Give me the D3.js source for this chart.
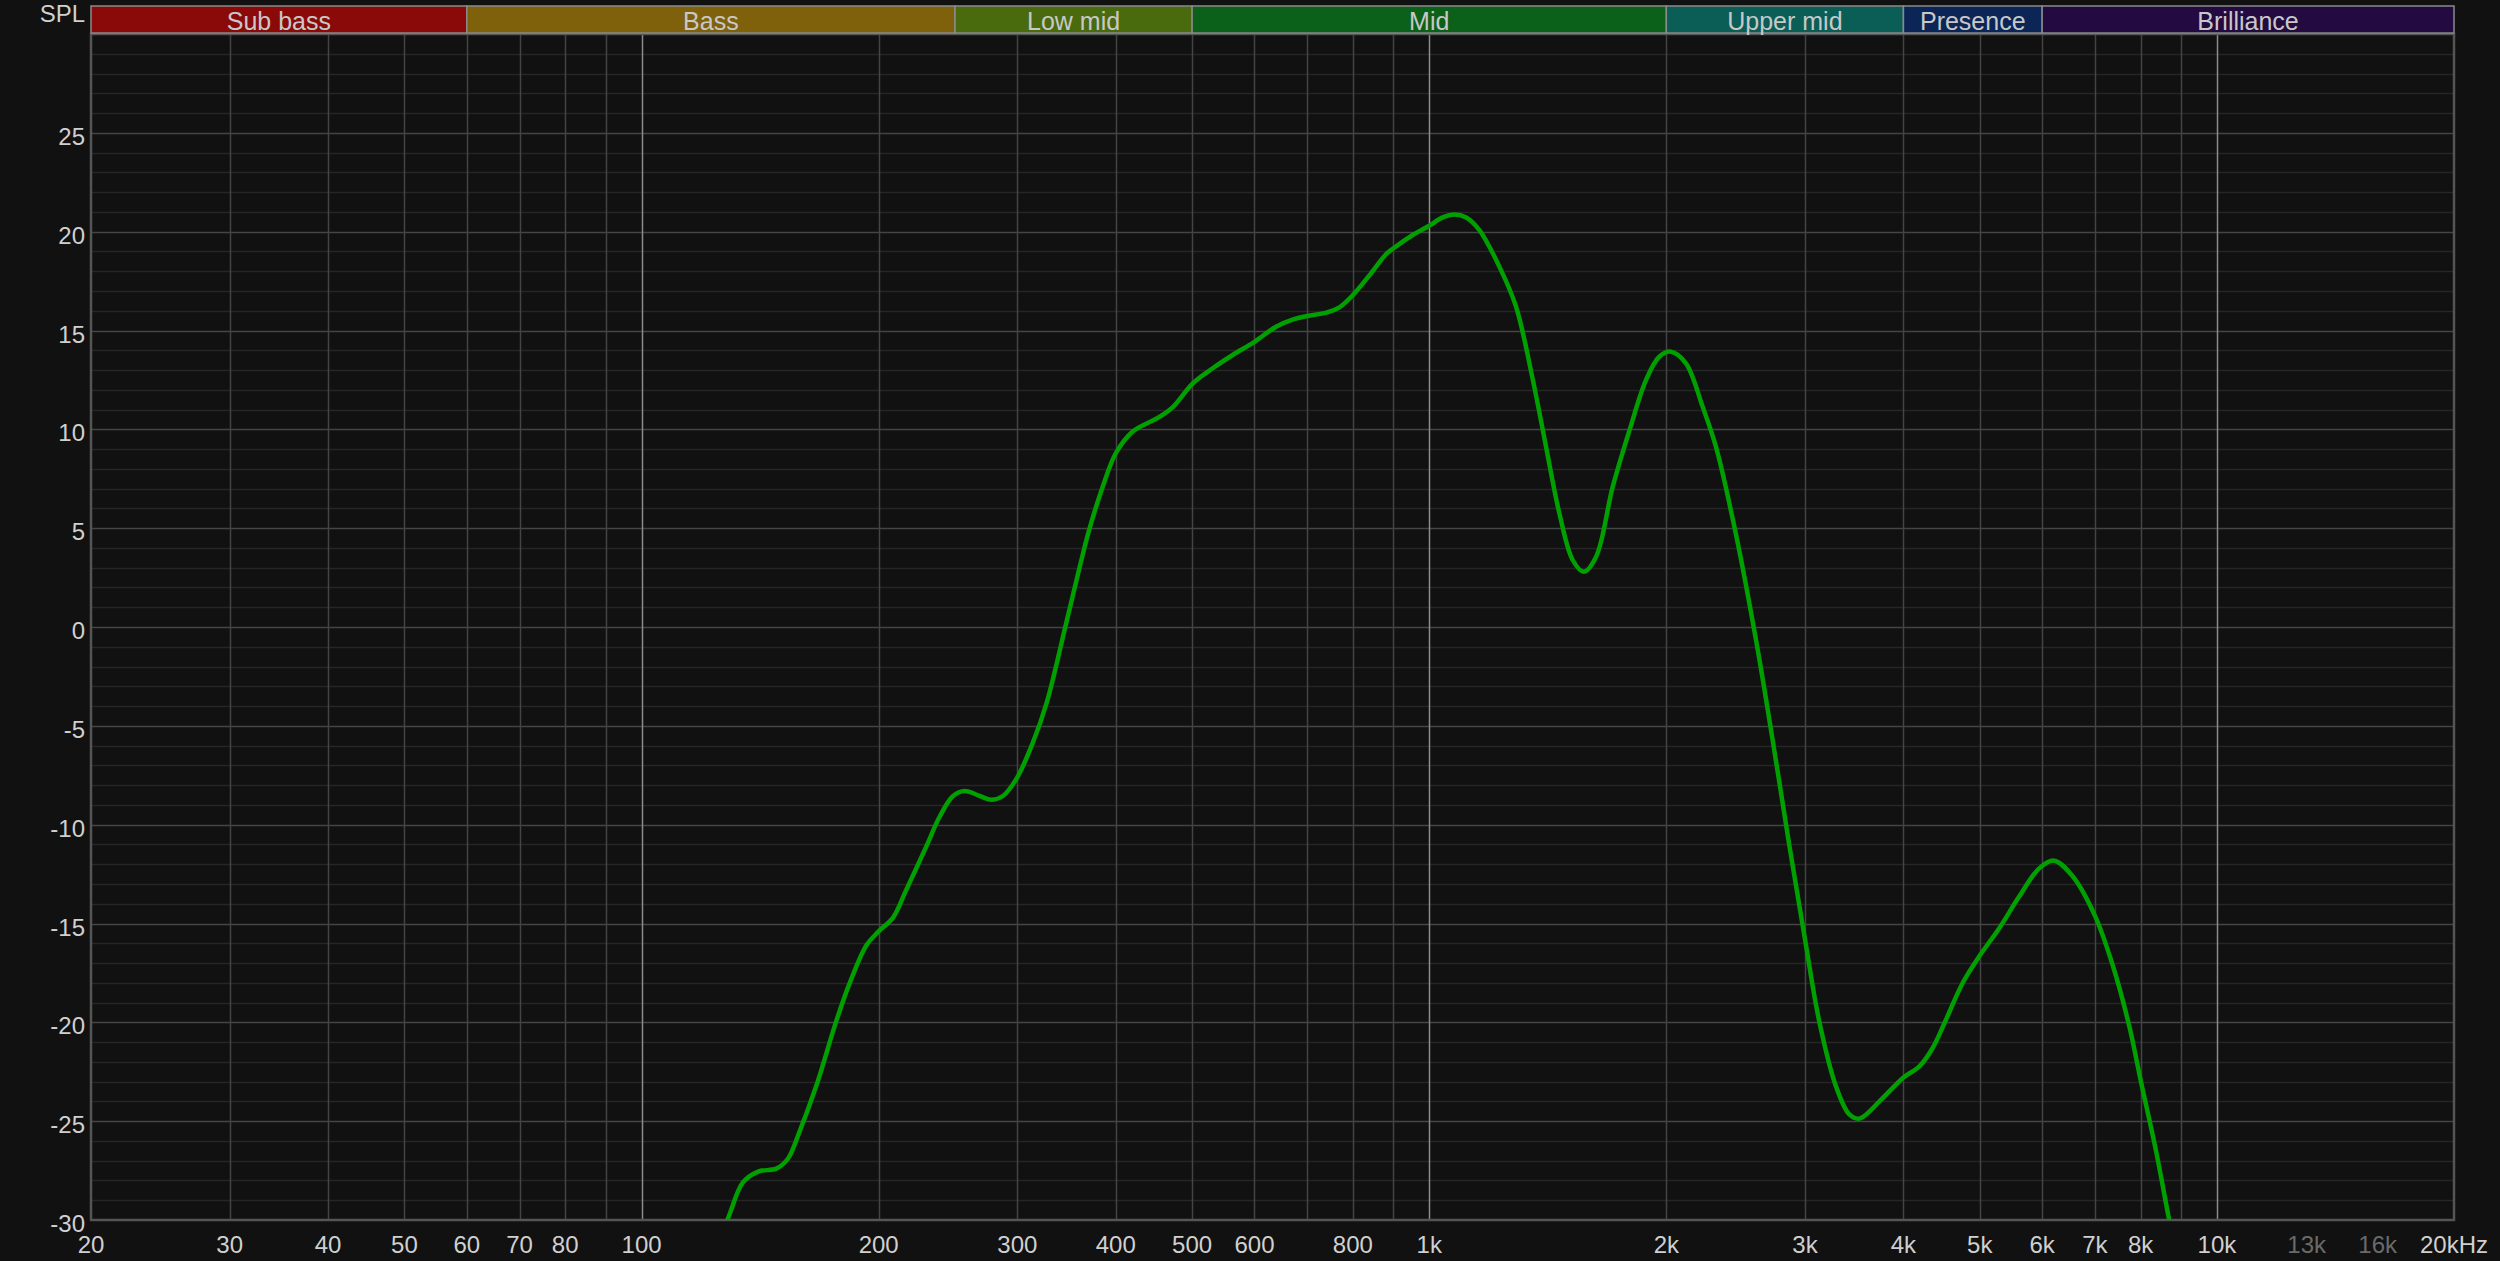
<!DOCTYPE html>
<html>
<head>
<meta charset="utf-8">
<script src="https://cdn.jsdelivr.net/npm/d3@7"></script>
<style>
  html, body { margin: 0; padding: 0; background: #111111; overflow: hidden; }
  svg { display: block; }
  text { font-family: "Liberation Sans", Arial, sans-serif; }
</style>
</head>
<body>
<div id="chart"></div>
<script>
// frequency response (Hz / dB SPL)
const freqs = [120, 128.8, 134.5, 140.6, 148.3, 153.4, 158.8, 166.7, 176.8, 183.8, 193, 200, 208.6, 216.8,
  229.9, 239, 248.6, 257.2, 268.8, 278, 287.6, 299, 314, 327, 346, 360, 370, 385, 400, 420, 455, 473,
  501, 531, 563, 600, 639, 672, 700, 740, 769, 800, 840, 882, 900, 953, 1000, 1040, 1077, 1114, 1158,
  1228, 1289, 1354, 1407, 1463, 1521, 1571, 1629, 1710, 1796, 1885, 1959, 2027, 2118, 2224, 2312,
  2452, 2600, 2729, 2866, 3000, 3128, 3284, 3415, 3516, 3764, 4000, 4188, 4355, 4528, 4754, 5000,
  5293, 5610, 5949, 6214, 6556, 7000, 7373, 7741, 8000, 8365, 8682, 9000];
const spl = [-33, -29.9, -28.1, -27.55, -27.4, -26.9, -25.5, -23.2, -19.9, -18.0, -16.1, -15.4, -14.7, -13.3,
  -11.1, -9.6, -8.55, -8.3, -8.55, -8.74, -8.55, -7.7, -5.84, -3.8, 0.19, 3.05, 4.9, 7.1, 8.79, 9.88, 10.64, 11.14,
  12.33, 13.09, 13.76, 14.43, 15.19, 15.56, 15.73, 15.9, 16.17, 16.79, 17.8, 18.87, 19.15, 19.83, 20.3, 20.72, 20.87, 20.72, 20.08,
  18.22, 16.2, 12.49, 9.12, 5.75, 3.39, 2.8, 3.56, 7.1, 9.96, 12.5, 13.67, 13.93, 13.34, 11.14, 9.12,
  4.67, -0.68, -5.72, -11.07, -15.82, -19.97, -23.24, -24.66, -24.87, -23.83, -22.79, -22.24, -21.31, -19.88, -18.02, -16.62,
  -15.24, -13.64, -12.21, -11.82, -12.6, -14.6, -17.1, -20.2, -22.9, -26.45, -29.83, -33];

const bandNames = ["Sub bass", "Bass", "Low mid", "Mid", "Upper mid", "Presence", "Brilliance"];
const bandEdges = [20, 60, 250, 500, 2000, 4000, 6000, 20000];
const bandColors = ["#8a0a0a", "#7f600b", "#4a6b0d", "#0b6119", "#0a5e55", "#0b2557", "#230b42"];

const xTicks = [20, 30, 40, 50, 60, 70, 80, 100, 200, 300, 400, 500, 600, 800, 1000,
  2000, 3000, 4000, 5000, 6000, 7000, 8000, 10000, 13000, 16000, 20000];
const xTickLabels = ["20", "30", "40", "50", "60", "70", "80", "100", "200", "300", "400", "500", "600", "800", "1k",
  "2k", "3k", "4k", "5k", "6k", "7k", "8k", "10k", "13k", "16k", "20kHz"];
const dimTicks = [13000, 16000];
const yTicks = [25, 20, 15, 10, 5, 0, -5, -10, -15, -20, -25, -30];

const width = 2500, height = 1261;
const plot = {left: 91, right: 2454, top: 34, bottom: 1220};

const x = d3.scaleLog().domain([20, 20000]).range([plot.left, plot.right]);
const y = d3.scaleLinear().domain([-30, 30]).range([plot.bottom, plot.top]);

const svg = d3.select("#chart").append("svg")
  .attr("width", width)
  .attr("height", height);

svg.append("rect").attr("width", width).attr("height", height).attr("fill", "#111111");

// grid - horizontal (1 dB minor, 5 dB major)
const dbLines = d3.range(-29, 30);
svg.append("g").selectAll("line")
  .data(dbLines)
  .enter().append("line")
  .attr("x1", plot.left).attr("x2", plot.right)
  .attr("y1", d => Math.round(y(d)) + 0.5).attr("y2", d => Math.round(y(d)) + 0.5)
  .attr("stroke", d => d % 5 === 0 ? "#454545" : "#262626")
  .attr("stroke-width", 1.5);

// grid - vertical, 1-9 per decade
let fLines = [];
[10, 100, 1000, 10000].forEach(dec => {
  for (let m = 1; m <= 9; m++) {
    let f = dec * m;
    if (f > 20 && f < 20000) fLines.push(f);
  }
});
svg.append("g").selectAll("line")
  .data(fLines)
  .enter().append("line")
  .attr("x1", d => Math.round(x(d)) + 0.5).attr("x2", d => Math.round(x(d)) + 0.5)
  .attr("y1", plot.top).attr("y2", plot.bottom)
  .attr("stroke", d => {
    if (d === 100 || d === 1000 || d === 10000) return "#8c8c8c";
    if (d > 10000) return "#2a2a2a";
    return "#444444";
  })
  .attr("stroke-width", 1.5);

// plot border
svg.append("rect")
  .attr("x", plot.left).attr("y", plot.top)
  .attr("width", plot.right - plot.left).attr("height", plot.bottom - plot.top)
  .attr("fill", "none")
  .attr("stroke", "#555555")
  .attr("stroke-width", 2.5);

// band strip on top
const bands = bandNames.map((name, i) => ({name: name, lo: bandEdges[i], hi: bandEdges[i + 1], color: bandColors[i]}));
const bandG = svg.append("g").selectAll("g")
  .data(bands)
  .enter().append("g");
bandG.append("rect")
  .attr("x", d => x(d.lo)).attr("y", 6)
  .attr("width", d => x(d.hi) - x(d.lo)).attr("height", 27)
  .attr("fill", d => d.color)
  .attr("stroke", "#8a8a8a")
  .attr("stroke-width", 1.5);
bandG.append("text")
  .attr("x", d => (x(d.lo) + x(d.hi)) / 2).attr("y", 30)
  .attr("text-anchor", "middle")
  .attr("font-size", 25)
  .attr("fill", "#c8c8c8")
  .text(d => d.name);

// curve
svg.append("clipPath").attr("id", "plotClip")
  .append("rect")
  .attr("x", plot.left).attr("y", plot.top)
  .attr("width", plot.right - plot.left).attr("height", plot.bottom - plot.top);

const points = freqs.map((f, i) => ({f: f, v: spl[i]}));
const line = d3.line()
  .x(d => x(d.f))
  .y(d => y(d.v))
  .curve(d3.curveCatmullRom.alpha(0.5));

svg.append("path")
  .datum(points)
  .attr("clip-path", "url(#plotClip)")
  .attr("d", line)
  .attr("fill", "none")
  .attr("stroke", "#00a000")
  .attr("stroke-width", 4.5)
  .attr("stroke-linejoin", "round");

// y labels
svg.append("g").selectAll("text")
  .data(yTicks)
  .enter().append("text")
  .attr("x", 85).attr("y", d => y(d) + 12)
  .attr("text-anchor", "end")
  .attr("font-size", 24)
  .attr("fill", "#d0d0d0")
  .text(d => d);

svg.append("text")
  .attr("x", 85).attr("y", 22)
  .attr("text-anchor", "end")
  .attr("font-size", 24)
  .attr("fill", "#d0d0d0")
  .text("SPL");

// x labels
svg.append("g").selectAll("text")
  .data(xTicks)
  .enter().append("text")
  .attr("x", d => x(d)).attr("y", 1253)
  .attr("text-anchor", "middle")
  .attr("font-size", 24)
  .attr("fill", d => dimTicks.includes(d) ? "#6a6a6a" : "#d0d0d0")
  .text((d, i) => xTickLabels[i]);
</script>
</body>
</html>
